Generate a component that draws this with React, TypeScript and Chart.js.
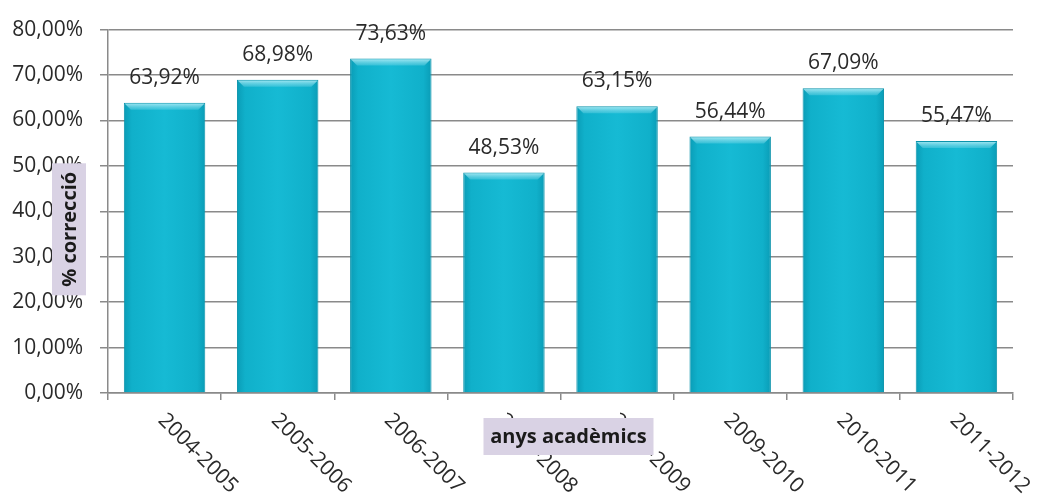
import React, { useEffect, useRef } from 'react';
import { Chart, registerables } from 'chart.js';

Chart.register(...registerables);

const categories = ['2004-2005', '2005-2006', '2006-2007', '2007-2008', '2008-2009', '2009-2010', '2010-2011', '2011-2012'];
const values = [63.92, 68.98, 73.63, 48.53, 63.15, 56.44, 67.09, 55.47];
const yTickValues = [0, 10, 20, 30, 40, 50, 60, 70, 80];
const yTitle = '% correcció';
const xTitle = 'anys acadèmics';

const FONT = '"Open Sans", sans-serif';
const FONT_SIZE = 21;
const TEXT_COLOR = '#2a2a2a';
const GRID_COLOR = '#8a8a8a';
const BOX_COLOR = '#d9d2e4';
const BAR_PCT = 0.72;

const fmt = (v: number) => v.toFixed(2).replace('.', ',') + '%';

const overlayPlugin = {
  id: 'overlay',
  afterDatasetsDraw(chart: any) {
    const ctx = chart.ctx;
    const meta = chart.getDatasetMeta(0);
    meta.data.forEach((bar: any, i: number) => {
      const { x, y, width } = bar.getProps(['x', 'y', 'width'], true);
      const left = x - width / 2;
      const right = x + width / 2;
      ctx.save();
      const g = ctx.createLinearGradient(0, y, 0, y + 7);
      g.addColorStop(0, 'rgba(200,245,252,0.85)');
      g.addColorStop(1, 'rgba(120,215,232,0.35)');
      ctx.fillStyle = g;
      ctx.beginPath();
      ctx.moveTo(left + 1, y + 1);
      ctx.lineTo(right - 1, y + 1);
      ctx.lineTo(right - 7, y + 7);
      ctx.lineTo(left + 7, y + 7);
      ctx.closePath();
      ctx.fill();
      ctx.fillStyle = TEXT_COLOR;
      ctx.font = `${FONT_SIZE}px ${FONT}`;
      ctx.textAlign = 'center';
      ctx.textBaseline = 'middle';
      ctx.fillText(fmt(values[i]), x, y - 25);
      ctx.restore();
    });
  },
  afterDraw(chart: any) {
    const ctx = chart.ctx;
    const area = chart.chartArea;
    const xs = chart.scales.x;
    ctx.save();
    ctx.fillStyle = TEXT_COLOR;
    ctx.font = `${FONT_SIZE}px ${FONT}`;
    ctx.textAlign = 'left';
    ctx.textBaseline = 'middle';
    categories.forEach((c, i) => {
      const px = xs.getPixelForValue(i);
      ctx.save();
      ctx.translate(px - 3, area.bottom + 24);
      ctx.rotate(Math.PI / 4);
      ctx.fillText(c, 0, 0);
      ctx.restore();
    });
    // x title box
    const cx = (area.left + area.right) / 2 + 8;
    const bw = 170, bh = 37;
    const by = area.bottom + 25;
    ctx.fillStyle = BOX_COLOR;
    ctx.fillRect(cx - bw / 2, by, bw, bh);
    ctx.fillStyle = '#1a1a1a';
    ctx.font = `bold 20px ${FONT}`;
    ctx.textAlign = 'center';
    ctx.textBaseline = 'middle';
    ctx.fillText(xTitle, cx, by + bh / 2 + 1);
    // y title box
    const ycx = 69;
    const ycy = (area.top + area.bottom) / 2 + 18;
    const yw = 34, yh = 132;
    ctx.fillStyle = BOX_COLOR;
    ctx.fillRect(ycx - yw / 2, ycy - yh / 2, yw, yh);
    ctx.save();
    ctx.translate(ycx + 1, ycy);
    ctx.rotate(-Math.PI / 2);
    ctx.fillStyle = '#1a1a1a';
    ctx.fillText(yTitle, 0, 0);
    ctx.restore();
    ctx.restore();
  },
};

export default function App() {
  const ref = useRef<HTMLCanvasElement | null>(null);
  useEffect(() => {
    if (!ref.current) return;
    const chart = new Chart(ref.current, {
      type: 'bar',
      data: {
        labels: categories,
        datasets: [
          {
            data: values,
            barPercentage: BAR_PCT,
            categoryPercentage: 1,
            borderWidth: 1,
            borderColor: '#0b93ab',
            backgroundColor: (c: any) => {
              const ch = c.chart;
              const area = ch.chartArea;
              const xs = ch.scales && ch.scales.x;
              if (!area || !xs || c.dataIndex === undefined) return '#12b6d0';
              const px = xs.getPixelForValue(c.dataIndex);
              const w = (area.width / categories.length) * BAR_PCT;
              const g = ch.ctx.createLinearGradient(px - w / 2, 0, px + w / 2, 0);
              g.addColorStop(0, '#0a9cb6');
              g.addColorStop(0.1, '#10b0ca');
              g.addColorStop(0.5, '#16bad4');
              g.addColorStop(0.9, '#10b0ca');
              g.addColorStop(1, '#0a9cb6');
              return g;
            },
          },
        ],
      },
      options: {
        responsive: false,
        animation: false,
        layout: { padding: { top: 20, right: 26, bottom: 0, left: 0 } },
        plugins: { legend: { display: false }, tooltip: { enabled: false } },
        scales: {
          x: {
            grid: { drawOnChartArea: false, drawTicks: true, tickLength: 7, offset: true, color: GRID_COLOR, lineWidth: 1.5 },
            border: { display: true, color: GRID_COLOR, width: 1.5 },
            ticks: { display: false },
            afterFit: (s: any) => { s.height = 108; },
          },
          y: {
            min: 0,
            max: 80,
            afterBuildTicks: (s: any) => { s.ticks = yTickValues.map((v) => ({ value: v })); },
            grid: { color: GRID_COLOR, lineWidth: 1.5, tickLength: 8 },
            border: { display: true, color: GRID_COLOR, width: 1.5 },
            ticks: {
              padding: 17,
              color: TEXT_COLOR,
              font: { family: FONT, size: FONT_SIZE },
              callback: (v: any) => fmt(Number(v)),
            },
            afterFit: (s: any) => { s.width = 108; },
          },
        },
      },
      plugins: [overlayPlugin],
    });
    return () => chart.destroy();
  }, []);
  return (
    <div style={{ position: 'fixed', left: 0, top: 0, width: 1039, height: 501, background: '#fff' }}>
      <canvas ref={ref} width={1039} height={501} style={{ display: 'block' }} />
    </div>
  );
}
